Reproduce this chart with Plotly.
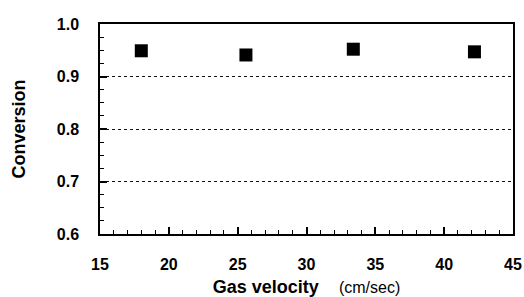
import plotly.graph_objects as go

gas_velocity = [18.0, 25.6, 33.4, 42.2]
conversion = [0.949, 0.941, 0.952, 0.947]

x_ticks = [15, 20, 25, 30, 35, 40, 45]
y_ticks = [0.6, 0.7, 0.8, 0.9, 1.0]
y_tick_labels = ["0.6", "0.7", "0.8", "0.9", "1.0"]

fig = go.Figure()
fig.add_trace(go.Scatter(
    x=gas_velocity, y=conversion, mode="markers",
    marker=dict(symbol="square", size=13, color="black", line=dict(width=0)),
    showlegend=False,
))

font = "Liberation Sans, Arial, sans-serif"
fig.update_layout(
    width=524, height=297,
    margin=dict(l=100, r=11, t=24, b=63),
    paper_bgcolor="white", plot_bgcolor="white",
    font=dict(family=font, color="black"),
    xaxis=dict(
        range=[15, 45], tickvals=x_ticks, ticktext=["<b>%d</b>" % v for v in x_ticks],
        automargin=False,
        showgrid=False, zeroline=False,
        showline=True, linecolor="black", linewidth=1.5, mirror=True,
        ticks="inside", ticklen=7, tickwidth=1.5, tickcolor="black",
        minor=dict(dtick=1, ticks="inside", ticklen=4, tickwidth=1, tickcolor="black"),
        tickfont=dict(size=16, family=font),
        ticklabelstandoff=15,
        title=dict(text="<b>Gas velocity</b>&nbsp;&nbsp;&nbsp;&nbsp;<span style='font-size:16px'>(cm/sec)</span>",
                   font=dict(size=18), standoff=11),
    ),
    yaxis=dict(
        range=[0.6, 1.0], tickvals=y_ticks, ticktext=["<b>%s</b>" % t for t in y_tick_labels],
        automargin=False,
        showgrid=True, gridcolor="#111", griddash="dot", gridwidth=1,
        zeroline=False,
        showline=True, linecolor="black", linewidth=1.5, mirror=True,
        ticks="inside", ticklen=7, tickwidth=1.5, tickcolor="black",
        minor=dict(dtick=0.025, ticks="inside", ticklen=4, tickwidth=1, tickcolor="black", showgrid=False),
        tickfont=dict(size=16, family=font),
        ticklabelstandoff=16,
        title=dict(text="<b>Conversion</b>", font=dict(size=18), standoff=26),
    ),
)

fig.write_html(
    "out.html",
    config={"displayModeBar": False},
    post_script="document.body.style.margin='0';document.body.style.overflow='hidden';",
)
